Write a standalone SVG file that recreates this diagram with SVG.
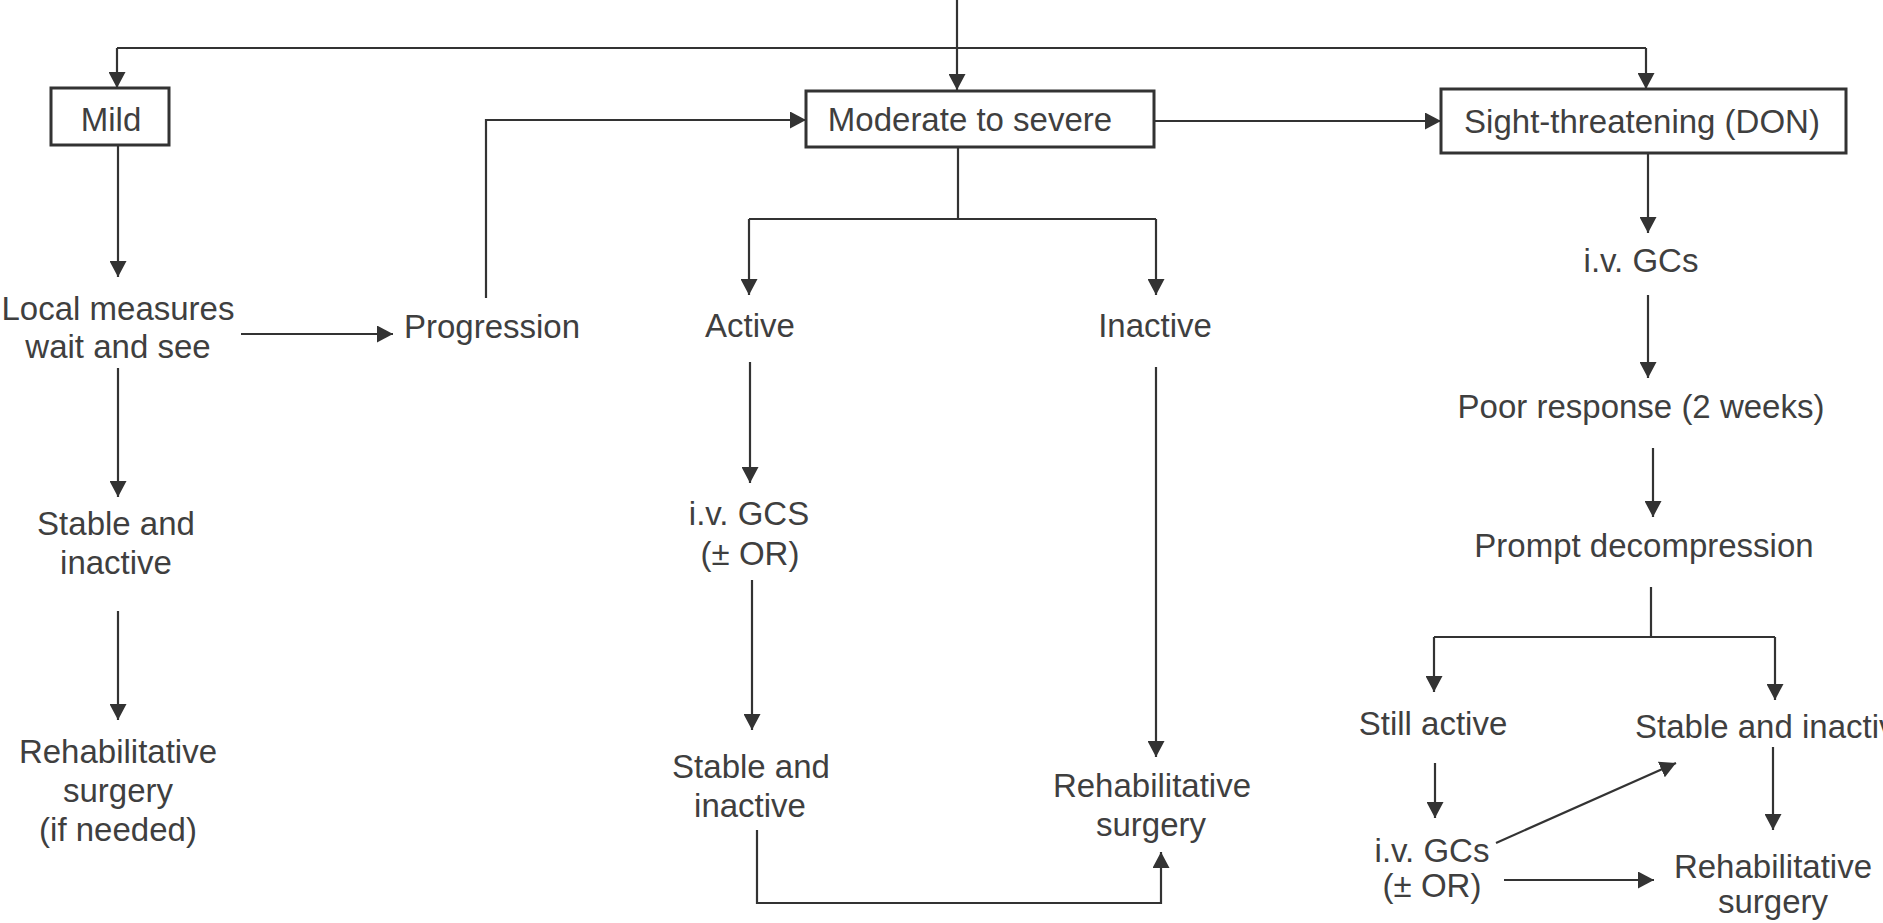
<svg xmlns="http://www.w3.org/2000/svg" width="1883" height="923" viewBox="0 0 1883 923">
<defs>
<marker id="ah" markerUnits="userSpaceOnUse" markerWidth="17" markerHeight="17" refX="16" refY="8.5" orient="auto">
<path d="M0,0 L16,8.5 L0,17 z" fill="#333"/>
</marker>
<style>
text{font-family:"Liberation Sans",Arial,Helvetica,sans-serif;font-size:33px;fill:#3f3f3f;text-anchor:middle}
.box{fill:none;stroke:#333;stroke-width:3}
.c path{fill:none;stroke:#333;stroke-width:2.2}
.a{marker-end:url(#ah)}
</style>
</defs>
<rect width="1883" height="923" fill="#fff"/>
<g class="c" id="connectors">
<path class="a" d="M957,0 V90"/>
<path d="M117,48 H1646"/>
<path class="a" d="M117,48 V88"/>
<path class="a" d="M1646,48 V89"/>
<path class="a" d="M118,145 V277"/>
<path class="a" d="M241,334 H393"/>
<path class="a" d="M118,368 V497"/>
<path class="a" d="M118,611 V720"/>
<path class="a" d="M486,298 V120 H806"/>
<path class="a" d="M1154,121 H1441"/>
<path d="M958,147 V219 M749,219 H1156"/>
<path class="a" d="M749,219 V295"/>
<path class="a" d="M1156,219 V295"/>
<path class="a" d="M750,362 V483"/>
<path class="a" d="M752,580 V730"/>
<path class="a" d="M1156,367 V757"/>
<path class="a" d="M757,830 V903 H1161 V852"/>
<path class="a" d="M1648,153 V233"/>
<path class="a" d="M1648,295 V378"/>
<path class="a" d="M1653,448 V517"/>
<path d="M1651,587 V637 M1434,637 H1775"/>
<path class="a" d="M1434,637 V692"/>
<path class="a" d="M1775,637 V700"/>
<path class="a" d="M1435,763 V818"/>
<path class="a" d="M1773,747 V830"/>
<path class="a" d="M1496,843 L1676,763"/>
<path class="a" d="M1504,880 H1654"/>
</g>
<g id="mild"><rect class="box" x="51" y="88" width="118" height="57"/><text x="111" y="131">Mild</text></g>
<g id="moderate"><rect class="box" x="806" y="91" width="348" height="56"/><text x="970" y="131">Moderate to severe</text></g>
<g id="sight"><rect class="box" x="1441" y="89" width="405" height="64"/><text x="1642" y="133">Sight-threatening (DON)</text></g>
<g id="local"><text x="118" y="320">Local measures</text><text x="118" y="358">wait and see</text></g>
<g id="progression"><text x="492" y="338">Progression</text></g>
<g id="active"><text x="750" y="337">Active</text></g>
<g id="inactive"><text x="1155" y="337">Inactive</text></g>
<g id="ivgcs-mid"><text x="749" y="525">i.v. GCS</text><text x="750" y="565">(± OR)</text></g>
<g id="stable-mid"><text x="751" y="778">Stable and</text><text x="750" y="817">inactive</text></g>
<g id="rehab-mid"><text x="1152" y="797">Rehabilitative</text><text x="1151" y="836">surgery</text></g>
<g id="stable-left"><text x="116" y="535">Stable and</text><text x="116" y="574">inactive</text></g>
<g id="rehab-left"><text x="118" y="763">Rehabilitative</text><text x="118" y="802">surgery</text><text x="118" y="841">(if needed)</text></g>
<g id="ivgcs-right"><text x="1641" y="272">i.v. GCs</text></g>
<g id="poor"><text x="1641" y="418">Poor response (2 weeks)</text></g>
<g id="prompt"><text x="1644" y="557">Prompt decompression</text></g>
<g id="still"><text x="1433" y="735">Still active</text></g>
<g id="stable-right"><text x="1635" y="738" style="text-anchor:start">Stable and inactive</text></g>
<g id="ivgcs-low"><text x="1432" y="862">i.v. GCs</text><text x="1432" y="897">(± OR)</text></g>
<g id="rehab-right"><text x="1773" y="878">Rehabilitative</text><text x="1773" y="913">surgery</text></g>
</svg>
